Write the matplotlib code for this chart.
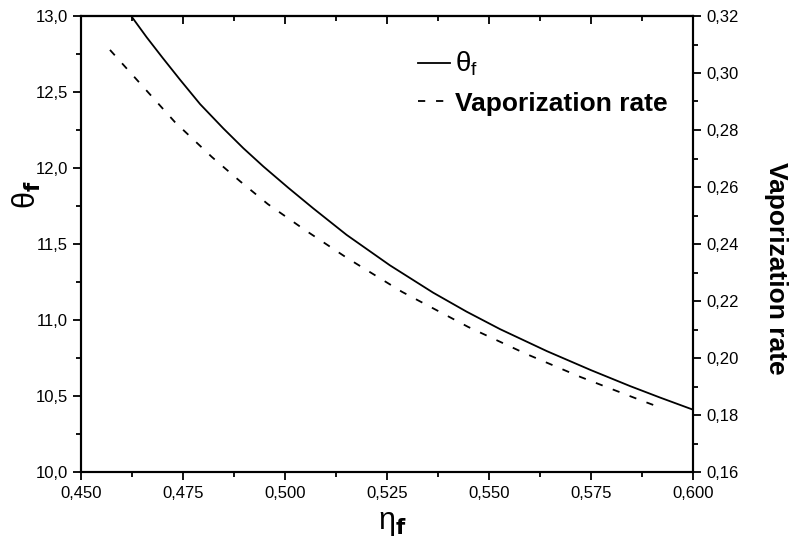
import matplotlib
matplotlib.use("Agg")
import matplotlib.pyplot as plt
from matplotlib.ticker import FuncFormatter, MultipleLocator

plt.rcParams['font.family'] = ['Liberation Sans', 'DejaVu Sans']
plt.rcParams['mathtext.fontset'] = 'dejavusans'
plt.rcParams['mathtext.default'] = 'regular'

# data
eta_theta = [0.4623, 0.4661, 0.4700, 0.4743, 0.4792, 0.4849, 0.4898, 0.4947, 0.5008, 0.5069,
             0.5151, 0.5257, 0.5363, 0.5445, 0.5527, 0.5642, 0.5750, 0.5846, 0.5919, 0.6000]
theta_f = [13.00, 12.86, 12.725, 12.58, 12.42, 12.26, 12.13, 12.01, 11.87, 11.735,
           11.56, 11.36, 11.18, 11.055, 10.94, 10.795, 10.67, 10.565, 10.49, 10.41]

eta_vap = [0.4571, 0.4730, 0.4821, 0.4890, 0.4958, 0.5049, 0.5152, 0.5287, 0.5449, 0.5590,
           0.5725, 0.5875, 0.5922]
vap_rate = [0.3081, 0.2828, 0.2705, 0.2620, 0.2540, 0.2449, 0.2351, 0.2232, 0.2109, 0.2015,
            0.1933, 0.1850, 0.1825]

W, H = 790, 545
fig = plt.figure(figsize=(W / 100, H / 100), dpi=100)
ax = fig.add_axes([81 / W, 1 - 472 / H, (693 - 81) / W, (472 - 16) / H])
ax2 = ax.twinx()

l1, = ax.plot(eta_theta, theta_f, color='black', lw=1.3)
l2, = ax2.plot(eta_vap, vap_rate, color='black', lw=1.3, linestyle=(0, (4, 6)))

ax.set_xlim(0.450, 0.600)
ax.set_ylim(10.0, 13.0)
ax2.set_ylim(0.16, 0.32)

def comma(fmt):
    return FuncFormatter(lambda v, p: (fmt % v).replace('.', ','))

ax.xaxis.set_major_locator(MultipleLocator(0.025))
ax.xaxis.set_minor_locator(MultipleLocator(0.0125))
ax.xaxis.set_major_formatter(comma('%.3f'))
ax.yaxis.set_major_locator(MultipleLocator(0.5))
ax.yaxis.set_minor_locator(MultipleLocator(0.25))
ax.yaxis.set_major_formatter(comma('%.1f'))
ax2.yaxis.set_major_locator(MultipleLocator(0.02))
ax2.yaxis.set_minor_locator(MultipleLocator(0.01))
ax2.yaxis.set_major_formatter(comma('%.2f'))

for a in (ax, ax2):
    for s in a.spines.values():
        s.set_linewidth(1.5)

ax.tick_params(axis='x', which='both', direction='out', top=False, width=1.3, labelsize=12, pad=4)
ax.tick_params(axis='x', which='major', length=6)
ax.tick_params(axis='x', which='minor', length=3.5)
ax.tick_params(axis='y', which='both', direction='out', width=1.3, labelsize=12)
ax.tick_params(axis='y', which='major', length=6)
ax.tick_params(axis='y', which='minor', length=3.5)
ax2.tick_params(axis='y', which='both', direction='out', width=1.3, labelsize=12)
ax2.tick_params(axis='y', which='major', length=6)
ax2.tick_params(axis='y', which='minor', length=3.5)

# top ticks pointing inward
sec = ax.secondary_xaxis('top')
sec.xaxis.set_major_locator(MultipleLocator(0.025))
sec.xaxis.set_minor_locator(MultipleLocator(0.0125))
sec.tick_params(axis='x', which='both', direction='in', width=1.3, labeltop=False)
sec.tick_params(axis='x', which='major', length=6)
sec.tick_params(axis='x', which='minor', length=3.5)
sec.spines['top'].set_linewidth(1.5)

ax.set_xlabel(r'$\eta_{\mathbf{f}}$', fontsize=22)
ax.xaxis.set_label_coords((392 - 81) / 612, -(508 - 472) / 456)
ax.set_ylabel(r'$\theta_{\mathbf{f}}$', fontsize=22)
ax.yaxis.set_label_coords((43 - 81) / 612, 1 - (195 - 16) / 456)
ax2.set_ylabel('Vaporization rate', fontsize=19, fontweight='bold', rotation=270, va='center')
ax2.yaxis.set_label_coords((776 - 693) / 612 + 1.0, 1 - (268 - 16) / 456)

leg = fig.legend([l1, l2], [r'$\theta_{f}$', 'Vaporization rate'],
                 loc='upper left', bbox_to_anchor=(418 / W, 1 - 50 / H),
                 bbox_transform=fig.transFigure, frameon=False,
                 prop={'size': 19, 'weight': 'bold'},
                 handlelength=1.2, handletextpad=0.2, labelspacing=0.5,
                 borderpad=0, borderaxespad=0)
texts = leg.get_texts()
texts[0].set_fontweight('normal')
texts[0].set_fontsize(20)

fig.savefig('out.png', dpi=100)
